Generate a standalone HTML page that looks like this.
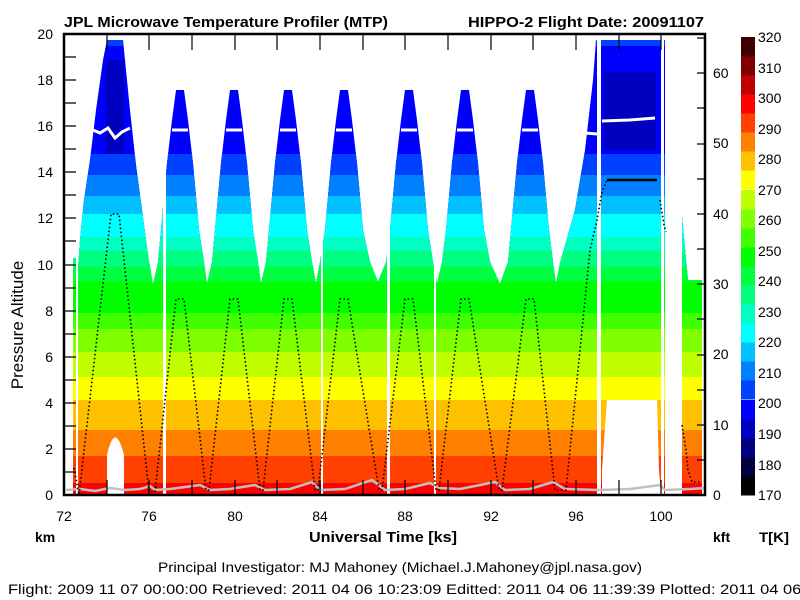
<!DOCTYPE html>
<html><head><meta charset="utf-8"><style>
html,body{margin:0;padding:0;background:#fff;}
svg{display:block;font-family:"Liberation Sans",Arial,sans-serif;}
</style></head><body>
<svg width="800" height="600" viewBox="0 0 800 600" xmlns="http://www.w3.org/2000/svg">
<defs>
<clipPath id="env">
<path d="M78,495 L78,270 L80,240 L84,200 L90,160 L96,110 L103,60 L107,40 L123,40 L125,60 L130,110 L136,165 L142,210 L148,255 L153,285
L158,262 L161,230 L167,163 L172,120 L176,90 L184,90 L188,120 L193,163 L199,230 L204,262 L207,284
L212,262 L215,230 L221,163 L226,120 L230,90 L238,90 L242,120 L247,163 L253,230 L258,262 L261,284
L266,262 L269,230 L275,163 L280,120 L284,90 L292,90 L296,120 L301,163 L307,230 L312,262 L316,284
L320,262 L325,230 L331,163 L336,120 L340,90 L348,90 L352,120 L357,163 L363,230 L370,262 L378,282
L386,262 L390,230 L396,163 L401,120 L405,90 L413,90 L417,120 L422,163 L428,230 L433,262 L437,284
L442,262 L446,230 L452,163 L457,120 L461,90 L469,90 L473,120 L478,163 L484,230 L490,262 L500,284
L508,262 L511,230 L517,163 L522,120 L526,90 L534,90 L538,120 L543,163 L549,230 L553,262 L556,284
L560,263 L568,235 L575,210 L585,150 L593,80 L596,40 L665,40 L665,495 Z
M682,495 L682,217 L688,280 L702,280 L702,495 Z
M73,495 L73,258 L76,258 L76,495 Z"/>
</clipPath>
</defs>
<g clip-path="url(#env)">
<rect x="64" y="34" width="641" height="461" fill="#0000ff"/>
<rect x="64" y="34" width="641" height="12" fill="#0040ff"/>
<rect x="106" y="60" width="18" height="105" fill="#0000c0"/>
<rect x="604" y="72" width="52" height="78" fill="#0000c0"/>
<rect x="64" y="154" width="641" height="341" fill="#0040ff"/>
<rect x="64" y="175" width="641" height="320" fill="#0080ff"/>
<rect x="64" y="196" width="641" height="299" fill="#00c0ff"/>
<rect x="64" y="214" width="641" height="281" fill="#00ffff"/>
<rect x="64" y="237" width="641" height="258" fill="#00ffc0"/>
<rect x="64" y="251" width="641" height="244" fill="#00ff80"/>
<rect x="64" y="267" width="641" height="228" fill="#00ff40"/>
<rect x="64" y="281" width="641" height="214" fill="#00ff00"/>
<rect x="64" y="313" width="641" height="182" fill="#40ff00"/>
<rect x="64" y="329" width="641" height="166" fill="#80ff00"/>
<rect x="64" y="352" width="641" height="143" fill="#c0ff00"/>
<rect x="64" y="377" width="641" height="118" fill="#ffff00"/>
<rect x="64" y="400" width="641" height="95" fill="#ffc000"/>
<rect x="64" y="430" width="641" height="65" fill="#ff8000"/>
<rect x="64" y="456" width="641" height="39" fill="#ff4000"/>
<rect x="64" y="483" width="641" height="12" fill="#ff0000"/>
</g>
<g fill="#fff">
<rect x="163" y="34" width="3" height="461"/>
<rect x="321" y="34" width="2" height="461"/>
<rect x="387" y="34" width="3" height="461"/>
<rect x="434" y="34" width="2" height="461"/>
<rect x="597" y="34" width="4" height="461"/>
<rect x="661" y="34" width="3" height="461"/>
<path d="M107,495 L107,455 Q115,420 124,455 L124,495 Z"/>
<path d="M602,495 L602,470 Q604,440 607,400 L657,400 L659,470 L661,495 Z"/>
</g>
<g stroke="#fff" stroke-width="3" fill="none">
<path d="M93,130 L100,133 L108,128 L115,138 L122,132 L130,128"/>
<path d="M172,130 H188"/><path d="M226,130 H242"/><path d="M280,130 H296"/>
<path d="M336,130 H352"/><path d="M401,130 H417"/><path d="M457,130 H473"/>
<path d="M522,130 H538"/>
<path d="M585,133 L597,134 M602,121 L630,120 L655,118"/>
</g>
<path d="M66,490 L80,489 L95,491 L110,488 L125,490 L140,489 L150,486 L155,490 L170,489 L200,485 L210,490 L230,489 L255,485 L265,490 L290,489 L312,482 L320,490 L345,489 L372,480 L385,490 L405,489 L430,483 L440,488 L460,489 L495,482 L505,490 L530,489 L553,482 L565,489 L600,490 L630,489 L660,485 L665,490 L690,489 L704,488" stroke="#c0c0c0" stroke-width="2.5" fill="none"/>
<polyline points="74,468 79,495 111,214 119,214 149,492 155,492 176,299 184,299 206,490 209,490 230,299 238,299 260,490 263,490 284,299 292,299 315,490 318,490 340,299 348,299 379,490 382,490 405,299 413,299 436,490 439,490 461,299 469,299 499,490 502,490 526,299 534,299 555,490 566,490 590,250 597,220 602,192 607,180" fill="none" stroke="#000" stroke-width="1.6" stroke-dasharray="1.5 2.5"/>
<path d="M607,180 H657" stroke="#000" stroke-width="2.5"/>
<polyline points="660,200 664,225 666,232" fill="none" stroke="#000" stroke-width="1.6" stroke-dasharray="1.5 2.5"/>
<polyline points="682,425 686,450 688,470 692,482 701,482" fill="none" stroke="#000" stroke-width="1.6" stroke-dasharray="1.5 2.5"/>
<rect x="64" y="34" width="641" height="461" fill="none" stroke="#000" stroke-width="2.5"/>
<g stroke="#000" stroke-width="1.2">
<path d="M64,472H76M64,449H76M64,426H76M64,403H76M64,380H76M64,357H76M64,334H76M64,311H76M64,288H76M64,265H76M64,241H76M64,218H76M64,195H76M64,172H76M64,149H76M64,126H76M64,103H76M64,80H76M64,57H76"/>
<path d="M107,34V50M149,34V50M192,34V50M235,34V50M277,34V50M320,34V50M363,34V50M405,34V50M448,34V50M491,34V50M533,34V50M576,34V50M619,34V50M661,34V50"/>
<path d="M107,495V480M149,495V480M192,495V480M235,495V480M277,495V480M320,495V480M363,495V480M405,495V480M448,495V480M491,495V480M533,495V480M576,495V480M619,495V480M661,495V480"/>
<path d="M705,460H697M705,425H697M705,390H697M705,355H697M705,319H697M705,284H697M705,249H697M705,214H697M705,179H697M705,144H697M705,108H697M705,73H697M705,38H697"/>
</g>
<g font-size="14" text-anchor="end" fill="#000">
<text x="53" y="500">0</text><text x="53" y="454">2</text><text x="53" y="408">4</text>
<text x="53" y="362">6</text><text x="53" y="316">8</text><text x="53" y="270">10</text>
<text x="53" y="223">12</text><text x="53" y="177">14</text><text x="53" y="131">16</text>
<text x="53" y="85">18</text><text x="53" y="39">20</text>
</g>
<g font-size="14" text-anchor="start" fill="#000">
<text x="713" y="500">0</text><text x="713" y="430">10</text><text x="713" y="359">20</text>
<text x="713" y="289">30</text><text x="713" y="219">40</text><text x="713" y="148">50</text>
<text x="713" y="78">60</text>
</g>
<g font-size="14" text-anchor="middle" fill="#000">
<text x="64" y="521">72</text><text x="149" y="521">76</text><text x="235" y="521">80</text>
<text x="320" y="521">84</text><text x="405" y="521">88</text><text x="491" y="521">92</text>
<text x="576" y="521">96</text><text x="661" y="521">100</text>
</g>
<g>
<rect x="741" y="476" width="14" height="19.5" fill="#000000"/>
<rect x="741" y="457" width="14" height="19.5" fill="#000040"/>
<rect x="741" y="438" width="14" height="19.5" fill="#000080"/>
<rect x="741" y="419" width="14" height="19.5" fill="#0000c0"/>
<rect x="741" y="400" width="14" height="19.5" fill="#0000ff"/>
<rect x="741" y="380" width="14" height="19.5" fill="#0040ff"/>
<rect x="741" y="361" width="14" height="19.5" fill="#0080ff"/>
<rect x="741" y="342" width="14" height="19.5" fill="#00c0ff"/>
<rect x="741" y="323" width="14" height="19.5" fill="#00ffff"/>
<rect x="741" y="304" width="14" height="19.5" fill="#00ffc0"/>
<rect x="741" y="285" width="14" height="19.5" fill="#00ff80"/>
<rect x="741" y="266" width="14" height="19.5" fill="#00ff40"/>
<rect x="741" y="247" width="14" height="19.5" fill="#00ff00"/>
<rect x="741" y="228" width="14" height="19.5" fill="#40ff00"/>
<rect x="741" y="209" width="14" height="19.5" fill="#80ff00"/>
<rect x="741" y="190" width="14" height="19.5" fill="#c0ff00"/>
<rect x="741" y="170" width="14" height="19.5" fill="#ffff00"/>
<rect x="741" y="151" width="14" height="19.5" fill="#ffc000"/>
<rect x="741" y="132" width="14" height="19.5" fill="#ff8000"/>
<rect x="741" y="113" width="14" height="19.5" fill="#ff4000"/>
<rect x="741" y="94" width="14" height="19.5" fill="#ff0000"/>
<rect x="741" y="75" width="14" height="19.5" fill="#c00000"/>
<rect x="741" y="56" width="14" height="19.5" fill="#800000"/>
<rect x="741" y="37" width="14" height="19.5" fill="#400000"/>
</g>
<g font-size="14" fill="#000">
<text x="758" y="500">170</text><text x="758" y="470">180</text><text x="758" y="439">190</text>
<text x="758" y="408">200</text><text x="758" y="378">210</text><text x="758" y="347">220</text>
<text x="758" y="317">230</text><text x="758" y="286">240</text><text x="758" y="256">250</text>
<text x="758" y="225">260</text><text x="758" y="195">270</text><text x="758" y="164">280</text>
<text x="758" y="134">290</text><text x="758" y="103">300</text><text x="758" y="73">310</text>
<text x="758" y="42">320</text>
</g>
<text x="64" y="27" font-size="14.5" font-weight="bold" textLength="324" lengthAdjust="spacingAndGlyphs">JPL Microwave Temperature Profiler (MTP)</text>
<text x="468" y="27" font-size="14.5" font-weight="bold" textLength="236" lengthAdjust="spacingAndGlyphs">HIPPO-2  Flight Date: 20091107</text>
<text transform="translate(23,325) rotate(-90)" font-size="17" text-anchor="middle">Pressure Altitude</text>
<text x="35" y="542" font-size="14" font-weight="bold">km</text>
<text x="383" y="542" font-size="15" font-weight="bold" text-anchor="middle" textLength="148" lengthAdjust="spacingAndGlyphs">Universal Time [ks]</text>
<text x="713" y="542" font-size="14" font-weight="bold">kft</text>
<text x="759" y="542" font-size="14" font-weight="bold" textLength="30" lengthAdjust="spacingAndGlyphs">T[K]</text>
<text x="158" y="572" font-size="14" textLength="484" lengthAdjust="spacingAndGlyphs">Principal Investigator: MJ Mahoney (Michael.J.Mahoney@jpl.nasa.gov)</text>
<text x="8" y="594" font-size="14" textLength="815" lengthAdjust="spacingAndGlyphs">Flight: 2009 11 07 00:00:00   Retrieved: 2011 04 06 10:23:09   Editted: 2011 04 06 11:39:39  Plotted: 2011 04 06 11</text>
</svg>
</body></html>
